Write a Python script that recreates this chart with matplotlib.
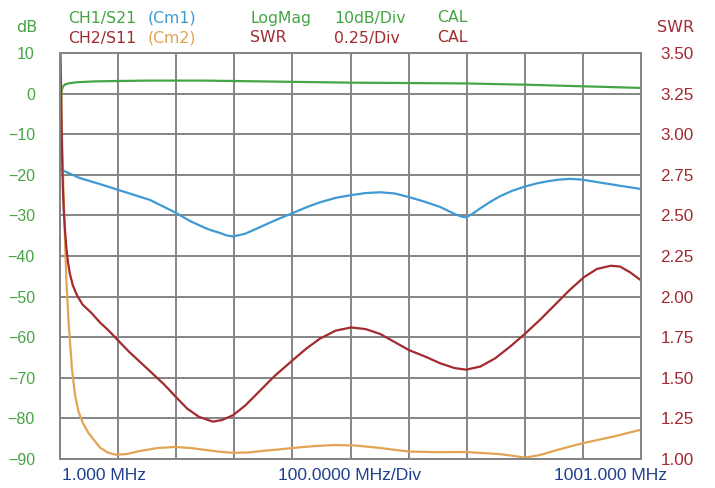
import numpy as np
import matplotlib
matplotlib.use("Agg")
import matplotlib.pyplot as plt

# CH1/S21 LogMag (dB)
f_s21 = [1, 2, 3, 4, 6, 9, 15, 30, 60, 100, 150, 200, 250, 300, 400, 500,
         600, 700, 800, 900, 1001]
s21_db = [-12, -5, -1, 0.8, 1.7, 2.2, 2.5, 2.8, 3.0, 3.1, 3.2, 3.2, 3.2, 3.1,
          2.9, 2.7, 2.6, 2.5, 2.2, 1.8, 1.4]

# Cm1 : mémoire S21 (dB)
f_cm1 = [4, 35, 70, 101, 125, 156, 180, 201, 225, 251, 262, 276, 287, 299,
         320, 345, 373, 402, 425, 448, 475, 502, 527, 552, 577, 602, 628,
         655, 668, 681, 690, 700, 712, 724, 740, 758, 780, 801, 822, 844,
         860, 879, 900, 930, 965, 1001]
cm1_db = [-18.8, -20.8, -22.3, -23.7, -24.8, -26.2, -27.9, -29.4, -31.4,
          -33.1, -33.7, -34.3, -34.9, -35.2, -34.5, -32.9, -31.1, -29.4,
          -28.0, -26.8, -25.7, -25.0, -24.5, -24.3, -24.6, -25.5, -26.6,
          -27.9, -28.8, -29.7, -30.2, -30.5, -29.5, -28.3, -26.8, -25.3,
          -23.9, -22.9, -22.1, -21.5, -21.2, -21.0, -21.2, -21.9, -22.7,
          -23.5]

# CH2/S11 SWR
f_s11 = [1, 3, 4.4, 6, 7.5, 9.6, 12, 14.8, 18, 23, 30, 40, 55, 70, 85, 101,
         120, 150, 180, 201, 220, 240, 264, 280, 299, 320, 345, 370, 402,
         425, 448, 475, 502, 527, 552, 577, 602, 630, 655, 680, 700, 725,
         750, 775, 801, 828, 853, 878, 903, 925, 949, 965, 982, 1001]
s11_swr = [3.6, 3.2, 2.9, 2.66, 2.53, 2.41, 2.3, 2.21, 2.14, 2.07, 2.01,
           1.95, 1.90, 1.84, 1.79, 1.73, 1.66, 1.56, 1.46, 1.38, 1.31,
           1.26, 1.23, 1.24, 1.27, 1.33, 1.42, 1.51, 1.61, 1.68, 1.74, 1.79,
           1.81, 1.80, 1.77, 1.72, 1.67, 1.63, 1.59, 1.56, 1.55, 1.57, 1.62,
           1.69, 1.77, 1.86, 1.95, 2.04, 2.12, 2.17, 2.19, 2.185, 2.15, 2.10]

# Cm2 : mémoire S11 (SWR)
f_cm2 = [1, 3, 4.4, 7, 9.6, 12, 16, 21.7, 27, 33, 40.6, 50, 61, 70, 83, 96,
         115, 139, 170, 199, 225, 251, 275, 299, 325, 350, 375, 402, 440,
         474, 510, 552, 580, 602, 650, 700, 758, 780, 801, 828, 853, 880,
         903, 930, 956, 980, 1001]
cm2_swr = [3.6, 3.3, 3.0, 2.65, 2.35, 2.1, 1.83, 1.55, 1.39, 1.29, 1.22,
           1.16, 1.11, 1.07, 1.04, 1.027, 1.03, 1.05, 1.068, 1.074, 1.068,
           1.056, 1.045, 1.038, 1.04, 1.05, 1.058, 1.068, 1.08, 1.086, 1.083,
           1.068, 1.055, 1.046, 1.042, 1.043, 1.03, 1.02, 1.008, 1.025,
           1.052, 1.078, 1.099, 1.12, 1.14, 1.162, 1.18]

ticks_db = list(range(-90, 11, 10))
ticks_swr = [1.00, 1.25, 1.50, 1.75, 2.00, 2.25, 2.50, 2.75, 3.00, 3.25, 3.50]

vert = "#45a545"
bleu = "#3f9ad4"
rouge = "#a22a30"
orange = "#e1a452"
gris = "#858585"

fig = plt.figure(figsize=(7.15, 4.88), dpi=100)
ax = fig.add_axes([60 / 715, 1 - 459 / 488, 581 / 715, 406 / 488])
ax2 = ax.twinx()

ax.set_xlim(1, 1001)
ax.set_ylim(-90, 10)
ax2.set_ylim(1.0, 3.5)

# Grille
ax.set_xticks(np.arange(1, 1002, 100))
ax.set_yticks(ticks_db)
ax.grid(True, color=gris, linewidth=1.4)
ax.tick_params(axis="x", length=0, labelbottom=False)
ax.tick_params(axis="y", length=0, pad=18, labelcolor=vert, labelsize=11.5)
for lab in ax.get_yticklabels():
    lab.set_fontfamily("Liberation Sans")

ax2.set_yticks(ticks_swr)
ax2.set_yticklabels([f"{v:.2f}" for v in ticks_swr])
ax2.tick_params(axis="y", length=0, pad=14, labelcolor=rouge, labelsize=12.3)
for lab in ax2.get_yticklabels():
    lab.set_fontfamily("Liberation Sans")

for a in (ax, ax2):
    for s in a.spines.values():
        s.set_color(gris)
        s.set_linewidth(1.4)

# Courbes
ax.plot(f_s21, s21_db, color=vert, linewidth=1.6)
ax.plot(f_cm1, cm1_db, color=bleu, linewidth=1.6)
ax2.plot(f_cm2, cm2_swr, color=orange, linewidth=1.6)
ax2.plot(f_s11, s11_swr, color=rouge, linewidth=1.6)

# En-têtes
hfont = dict(fontsize=11.3, fontfamily="DejaVu Sans", va="center", ha="left")
fig.text(68 / 715, 1 - 18 / 488, "CH1/S21", color=vert, **hfont)
fig.text(148 / 715, 1 - 18 / 488, "(Cm1)", color=bleu, **hfont)
fig.text(250 / 715, 1 - 18 / 488, "LogMag", color=vert, **hfont)
fig.text(334 / 715, 1 - 18 / 488, "10dB/Div", color=vert, **hfont)
fig.text(437 / 715, 1 - 18 / 488, "CAL", color=vert, **hfont)
fig.text(68 / 715, 1 - 38 / 488, "CH2/S11", color=rouge, **hfont)
fig.text(148 / 715, 1 - 38 / 488, "(Cm2)", color=orange, **hfont)
fig.text(250 / 715, 1 - 38 / 488, "SWR", color=rouge, **hfont)
fig.text(334 / 715, 1 - 38 / 488, "0.25/Div", color=rouge, **hfont)
fig.text(437 / 715, 1 - 38 / 488, "CAL", color=rouge, **hfont)

fig.text(37 / 715, 1 - 27 / 488, "dB", color=vert, fontsize=11.5,
         fontfamily="DejaVu Sans", va="center", ha="right")
fig.text(657 / 715, 1 - 27 / 488, "SWR", color=rouge, fontsize=11.5,
         fontfamily="DejaVu Sans", va="center", ha="left")

# Légendes de l'axe des fréquences
xfont = dict(fontsize=12.6, fontfamily="Liberation Sans", va="center",
             ha="center", color="#1f3f8f")
fig.text(104 / 715, 1 - 476 / 488, "1.000 MHz", **xfont)
fig.text(349 / 715, 1 - 476 / 488, "100.0000 MHz/Div", **xfont)
fig.text(610 / 715, 1 - 476 / 488, "1001.000 MHz", **xfont)

fig.savefig("out.png", dpi=100)
